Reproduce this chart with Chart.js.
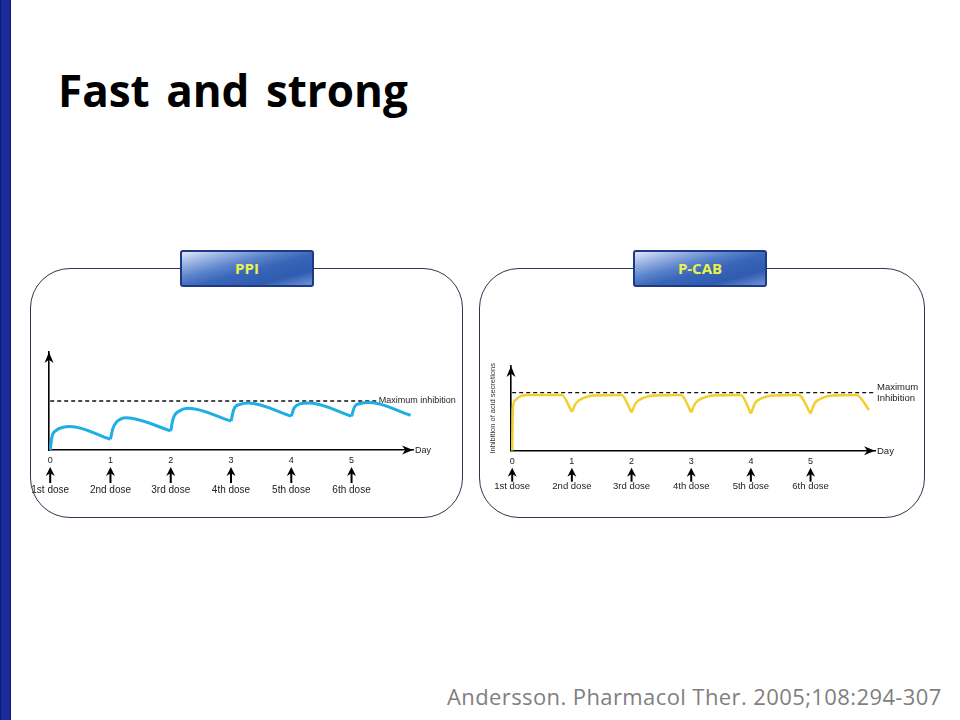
<!DOCTYPE html>
<html>
<head>
<meta charset="utf-8">
<script src="https://cdn.jsdelivr.net/npm/chart.js@4.4.1/dist/chart.umd.min.js"></script>
<style>
  html, body { margin: 0; padding: 0; background: #fff; }
  #page { position: relative; width: 960px; height: 720px; overflow: hidden; background: #fff; }
  .sidebar { position: absolute; left: 0; top: 0; width: 11px; height: 720px; background: #1b2a9c; border-right: 1px solid #0f1a6a; box-sizing: border-box; border-left: 1px solid #101c70; }
  .title { position: absolute; left: 58px; top: 60px; font-family: "Open Sans", sans-serif; font-weight: 700; font-size: 44px; color: #000; word-spacing: 5px; }
  .footer { position: absolute; left: 447px; top: 681px; font-family: "Open Sans", sans-serif; font-size: 22px; letter-spacing: 0.4px; color: #7f7f7f; }
  .panel { position: absolute; top: 268px; height: 250px; border: 1.3px solid #2c3850; border-radius: 40px; box-sizing: border-box; background: #fff; }
  .badge { position: absolute; top: 250px; width: 134px; height: 37px; box-sizing: border-box; border: 2px solid #1e3a84; border-radius: 3px;
           background: linear-gradient(165deg, #dfe8f8 0%, #9db6e3 18%, #5c84cc 38%, #3a66b8 55%, #2f5bb0 78%, #6e93d6 100%);
           color: #ecf24a; font-family: "Open Sans", sans-serif; font-weight: 700; font-size: 15px; line-height: 33px; text-align: center; }
  canvas { position: absolute; }
</style>
</head>
<body>
<div id="page">
  <div class="sidebar"></div>
  <div class="title">Fast and strong</div>

  <div class="panel" style="left:30px; width:433px;"></div>
  <div class="panel" style="left:479px; width:446px;"></div>
  <div class="badge" style="left:180px;">PPI</div>
  <div class="badge" style="left:633px;">P-CAB</div>

  <canvas id="ppiChart" width="432" height="180" style="left:30px; top:330px;"></canvas>
  <canvas id="pcabChart" width="444" height="180" style="left:480px; top:330px;"></canvas>

  <div class="footer">Andersson. Pharmacol Ther. 2005;108:294-307</div>
</div>

<script>
// day ticks and dose labels shared by both panels
const dayTicks = [0, 1, 2, 3, 4, 5];
const doseLabels = ["1st dose", "2nd dose", "3rd dose", "4th dose", "5th dose", "6th dose"];
const maxLevel = 100;

// PPI: inhibition level (max inhibition = 100); a repeated day starts a new dose cycle
const ppiDays   = [0, 0.03, 0.1, 0.2, 0.33, 1,   1, 1.04, 1.1, 1.26, 2,   2, 2.04, 2.15, 2.29, 3,   3, 3.05, 3.15, 3.29, 4,   4, 4.05, 4.14, 4.3, 5,   5, 5.05, 5.14, 5.3, 5.98];
const ppiLevels = [0, 27,   40,  46,  48,   22,  22, 44,  57,  66,   39,  39, 64,  80,   85,   59,  59, 84,   93,   96,   69,  69, 86,   94,   96,  69,  69, 88,   95,   97,  71];
const ppiMaxEnd = 5.42;

// P-CAB
const pcabDays   = [0, 0.01, 0.05, 0.12, 0.25, 0.83, 1,   1, 1.07, 1.2, 1.37, 1.83, 2,   2, 2.07, 2.2, 2.37, 2.83, 3,   3, 3.07, 3.2, 3.37, 3.83, 4,   4, 4.07, 4.2, 4.37, 4.8, 5,   5, 5.07, 5.2, 5.37, 5.77, 5.98];
const pcabLevels = [0, 72,   87,   93,   96,   96,   67,  67, 82,  91,  95,   96,   66,  66, 82,  91,  95,   96,   66,  66, 82,  91,  95,   96,   64,  64, 82,  91,  95,   96,  64,  64, 82,  91,  95,   96,   70];
const pcabMaxEnd = 6.08;

function cycles(days, levels) {
  const out = [];
  let cur = [];
  days.forEach((d, i) => {
    if (i > 0 && d === days[i - 1]) {
      out.push(cur);
      cur = [];
    }
    cur.push({ x: d, y: levels[i] });
  });
  out.push(cur);
  return out;
}

function arrowHead(ctx, x, y, angle, len, half) {
  ctx.save();
  ctx.translate(x, y);
  ctx.rotate(angle);
  ctx.beginPath();
  ctx.moveTo(0, 0);
  ctx.lineTo(-len, -half);
  ctx.lineTo(-len * 0.7, 0);
  ctx.lineTo(-len, half);
  ctx.closePath();
  ctx.fill();
  ctx.restore();
}

const schematic = {
  id: "schematic",
  afterDraw(chart, args, opts) {
    const { ctx, chartArea, scales } = chart;
    const x = scales.x, y = scales.y;
    const font = "Liberation Sans, Arial, sans-serif";
    ctx.save();
    ctx.fillStyle = "#000";
    ctx.strokeStyle = "#000";

    // axis arrow heads
    arrowHead(ctx, chartArea.left, chartArea.top, -Math.PI / 2, 11, 4.5);
    arrowHead(ctx, chartArea.right, chartArea.bottom, 0, 11, 4.5);

    ctx.font = opts.fontSize + "px " + font;
    ctx.textBaseline = "middle";
    ctx.textAlign = "left";
    ctx.fillStyle = "#222";
    ctx.fillText("Day", chartArea.right + 2, chartArea.bottom + 1);

    // maximum inhibition label
    const mx = x.getPixelForValue(opts.maxEnd) + 2;
    const my = y.getPixelForValue(maxLevel);
    const lh = opts.fontSize + 1;
    opts.maxLabel.forEach((t, i) => {
      ctx.fillText(t, mx, my + (i - (opts.maxLabel.length - 1) / 2) * lh);
    });

    // dose arrows and labels
    ctx.textAlign = "center";
    ctx.font = opts.doseSize + "px " + font;
    ctx.lineWidth = 2;
    dayTicks.forEach((d, i) => {
      const px = x.getPixelForValue(d);
      const top = chartArea.bottom + opts.arrowTop;
      ctx.fillStyle = "#000";
      ctx.beginPath();
      ctx.moveTo(px, top + 6);
      ctx.lineTo(px, top + opts.arrowLen);
      ctx.stroke();
      arrowHead(ctx, px, top, -Math.PI / 2, 9, 4.5);
      ctx.fillStyle = "#222";
      ctx.fillText(doseLabels[i], px, chartArea.bottom + opts.labelOffset);
    });
    ctx.restore();
  }
};

function makeChart(id, days, levels, color, width, cfg) {
  const datasets = cycles(days, levels).map(pts => ({
    data: pts,
    borderColor: color,
    borderWidth: width,
    pointRadius: 0,
    cubicInterpolationMode: "monotone",
    fill: false
  }));
  datasets.push({
    data: [{ x: 0, y: maxLevel }, { x: cfg.maxEnd, y: maxLevel }],
    borderColor: "#111",
    borderWidth: 1.3,
    borderDash: [4, 3],
    pointRadius: 0,
    fill: false
  });

  return new Chart(document.getElementById(id), {
    type: "line",
    data: { datasets },
    options: {
      responsive: false,
      animation: false,
      layout: { padding: cfg.padding },
      plugins: {
        legend: { display: false },
        tooltip: { enabled: false },
        schematic: cfg
      },
      scales: {
        x: {
          type: "linear",
          min: -0.02,
          max: cfg.xMax,
          grid: { display: false, drawTicks: false },
          border: { display: true, color: "#000", width: 1.6 },
          afterBuildTicks: s => { s.ticks = dayTicks.map(v => ({ value: v })); },
          afterFit: s => { s.height = cfg.xHeight; },
          ticks: {
            padding: 5,
            color: "#222",
            maxRotation: 0,
            font: { family: "Liberation Sans, Arial, sans-serif", size: 9 }
          }
        },
        y: {
          type: "linear",
          min: 0,
          max: cfg.yMax,
          grid: { display: false, drawTicks: false },
          border: { display: true, color: "#000", width: 1.6 },
          ticks: { display: false },
          afterFit: s => { s.width = cfg.yWidth; },
          title: {
            display: !!cfg.yTitle,
            text: cfg.yTitle || "",
            color: "#333",
            padding: { top: 0, bottom: 0 },
            font: { family: "Liberation Sans, Arial, sans-serif", size: 7.5 }
          }
        }
      }
    },
    plugins: [schematic]
  });
}

makeChart("ppiChart", ppiDays, ppiLevels, "#1eaee6", 3, {
  padding: { left: 19, right: 49, top: 22, bottom: 0 },
  xMax: 6.02, yMax: 200, xHeight: 60, yWidth: 0,
  maxEnd: ppiMaxEnd, maxLabel: ["Maximum inhibition"],
  fontSize: 9, doseSize: 10, arrowTop: 17, arrowLen: 16, labelOffset: 40
});

makeChart("pcabChart", pcabDays, pcabLevels, "#f2cf2a", 2.5, {
  padding: { left: 8, right: 49, top: 36, bottom: 0 },
  xMax: 6.08, yMax: 146, xHeight: 59.3, yWidth: 23,
  yTitle: "Inhibition of acid secretions",
  maxEnd: pcabMaxEnd, maxLabel: ["Maximum", "Inhibition"],
  fontSize: 9.5, doseSize: 9.5, arrowTop: 17, arrowLen: 14, labelOffset: 36
});
</script>
</body>
</html>
